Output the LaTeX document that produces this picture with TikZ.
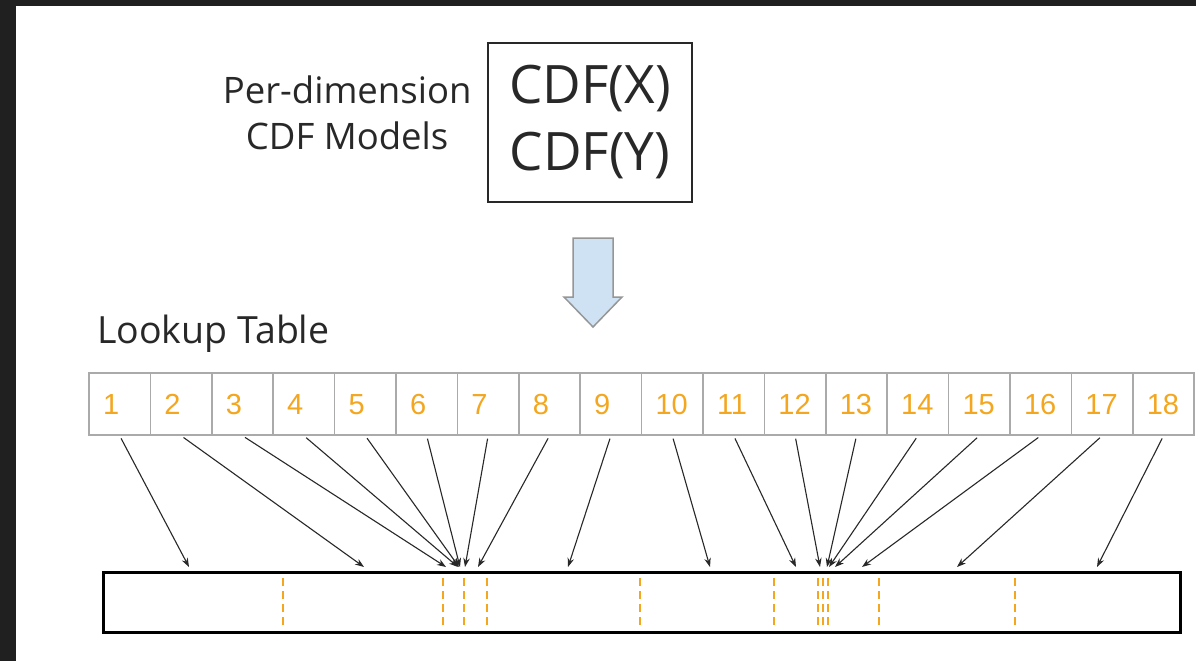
\documentclass[tikz,border=0pt]{standalone}
\usepackage{fontspec}
\setmainfont{Open Sans}
\newfontfamily\numfont{Liberation Sans}
\usetikzlibrary{positioning,arrows.meta}
\definecolor{lutorange}{RGB}{243,166,30}
\definecolor{lutgray}{RGB}{170,170,170}
\definecolor{inkgray}{RGB}{40,40,40}
\definecolor{arrowblue}{RGB}{207,226,243}
\definecolor{arrowedge}{RGB}{150,150,150}
\definecolor{slate}{RGB}{32,32,32}
\tikzset{
  cellbox/.style={draw=lutgray, line width=1.5pt, minimum width=61.4pt, minimum height=62pt,
    inner xsep=14pt, inner ysep=0pt, text width=33.4pt, text height=21pt, text depth=0pt,
    align=left, text=lutorange, font=\numfont\fontsize{29}{29}\selectfont},
  mapline/.style={draw=inkgray, line width=1.1pt, -{Stealth[length=9pt,width=6.5pt]}},
  cutline/.style={draw=lutorange, line width=2.8pt, dash pattern=on 8pt off 5pt},
}
\begin{document}
\begin{tikzpicture}[x=1pt,y=-1pt]
\useasboundingbox (0,0) rectangle (1196,661);
\fill[slate] (0,0) rectangle (1196,661);
\fill[white] (16,6) rectangle (1196,661);
% CDF models
\node[draw=inkgray, line width=2pt, minimum width=204pt, minimum height=159pt, align=center,
  font=\fontsize{53}{67}\selectfont, text=inkgray] (cdfbox) at (590,122.5) {CDF(X)\\CDF(Y)};
\node[left=12pt of cdfbox, yshift=10pt, align=center, text=inkgray,
  font=\fontsize{36.5}{46}\selectfont] (models) {Per-dimension\\CDF Models};
% down arrow
\draw[fill=arrowblue, draw=arrowedge, line width=1.5pt, line join=miter]
  (573,238) -- (613,238) -- (613,297) -- (622,297) -- (593,327) -- (564,297) -- (573,297) -- cycle;
\node[anchor=base west, inner sep=0pt, text=inkgray, font=\fontsize{37.5}{37.5}\selectfont]
  (lookup) at (97,343) {Lookup Table};
% table
\foreach \i in {1,...,18}
  \node[cellbox] (c\i) at ({89+61.4*(\i-0.5)},404) {\i};
% bar
\node[draw=black, line width=3pt, minimum width=1077pt, minimum height=60pt] (bar) at (641.5,602) {};
\foreach \x in {283,443,464,487,640,774,818,823,828,879,1015}
  \draw[cutline] (\x,578) -- (\x,628);
% mapping arrows
\foreach \i/\x in {1/189,2/364,3/446,4/458,5/459,6/460,7/465,8/478,9/568,10/710,
  11/796,12/820,13/827,14/829,15/835,16/862,17/957,18/1097}{
  \coordinate (t\i) at (\x,567);
  \draw[mapline, shorten <=3pt] (c\i.south) -- (t\i);
}
\end{tikzpicture}
\end{document}
